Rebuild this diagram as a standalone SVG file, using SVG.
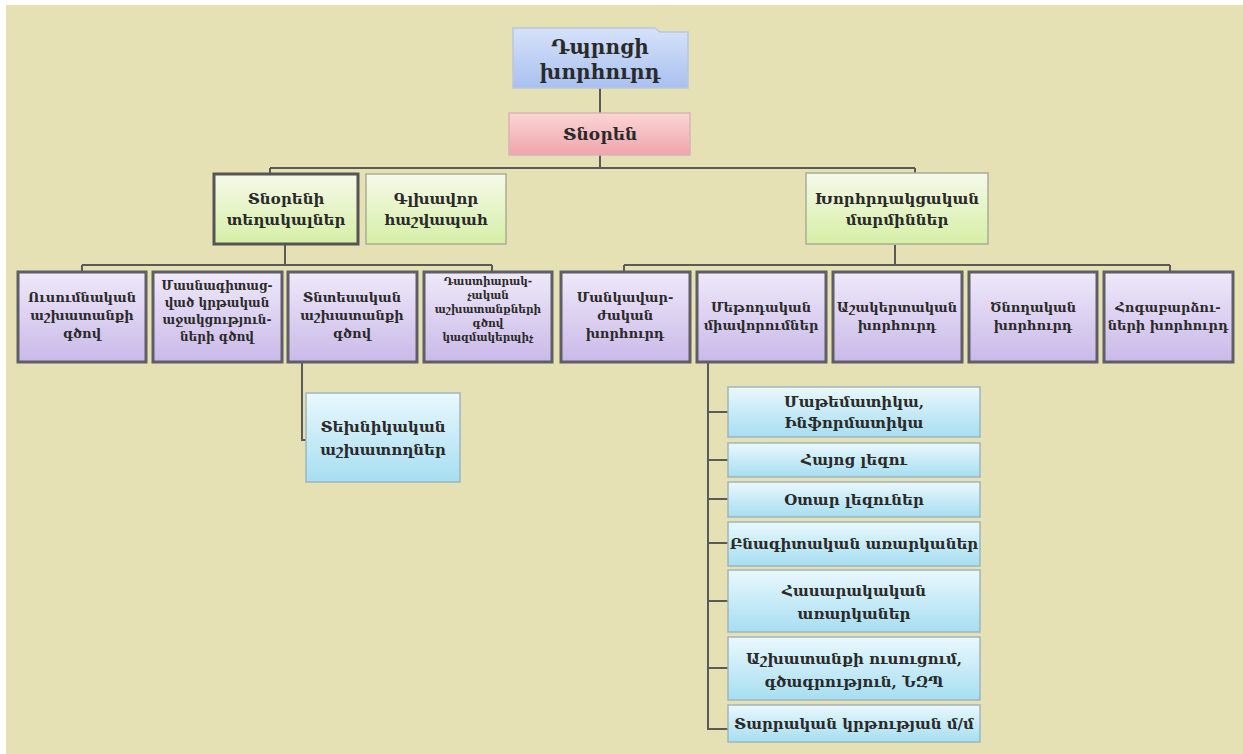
<svg xmlns="http://www.w3.org/2000/svg" width="1243" height="754" viewBox="0 0 1243 754">
<defs>
<linearGradient id="gBlue" x1="0" y1="0" x2="0" y2="1"><stop offset="0" stop-color="#d6e2fa"/><stop offset="1" stop-color="#a9c0ef"/></linearGradient>
<linearGradient id="gPink" x1="0" y1="0" x2="0" y2="1"><stop offset="0" stop-color="#fbd6d6"/><stop offset="1" stop-color="#f0a4ab"/></linearGradient>
<linearGradient id="gGreen" x1="0" y1="0" x2="0" y2="1"><stop offset="0" stop-color="#f6f9ea"/><stop offset="1" stop-color="#d6efa6"/></linearGradient>
<linearGradient id="gPurple" x1="0" y1="0" x2="0" y2="1"><stop offset="0" stop-color="#efe9fa"/><stop offset="1" stop-color="#c9b9e8"/></linearGradient>
<linearGradient id="gCyan" x1="0" y1="0" x2="0" y2="1"><stop offset="0" stop-color="#eaf8fd"/><stop offset="1" stop-color="#a6def1"/></linearGradient>
</defs>
<style>
text{font-family:"DejaVu Serif","Liberation Serif",serif;text-anchor:middle;fill:#2a2a2a;font-weight:bold}
.blue{fill:url(#gBlue);stroke:#b9c6dc;stroke-width:1.5}
.pink{fill:url(#gPink);stroke:#d9b4b4;stroke-width:1.5}
.green{fill:url(#gGreen);stroke:#a9ad94;stroke-width:1.5}
.greenT{fill:url(#gGreen);stroke:#555;stroke-width:3}
.purple{fill:url(#gPurple);stroke:#5e5e66;stroke-width:3}
.cyan{fill:url(#gCyan);stroke:#9fb5bd;stroke-width:1.5}
.l2{font-size:15px}
.l3{font-size:13px}
.l3m{font-size:12px}
.l3s{font-size:10.5px}
.lc{font-size:15px}
#connectors path{fill:none;stroke:#5a5a5a;stroke-width:2}
</style>
<rect x="0" y="0" width="1243" height="754" fill="#ffffff"/>
<rect x="6" y="5" width="1237" height="749" fill="#e6e0b5"/>
<g id="connectors">
<path d="M600 88 V113"/>
<path d="M600 155 V168 M270 168 H915 M270 168 V175 M915 168 V175"/>
<path d="M285 245 V265 M82 265 H492 M82 265 V271 M492 265 V271"/>
<path d="M895 245 V265 M624 265 H1170 M624 265 V271 M1170 265 V271"/>
<path d="M302 362 V440 H306"/>
<path d="M708 362 V729 H728 M708 412 H728 M708 460 H728 M708 499 H728 M708 543 H728 M708 601 H728 M708 668 H728"/>
</g>
<g id="n-council">
<path class="blue" d="M513 28 H655 L660 32 H688 V88 H513 Z"/>
<text x="600" y="54" font-size="20" fill="#22223a">Դպրոցի</text>
<text x="600" y="79" font-size="20" fill="#22223a">խորհուրդ</text>
</g>
<g id="n-director">
<rect class="pink" x="509" y="113" width="181" height="42"/>
<text x="600" y="140" font-size="17" fill="#4e1a1a">Տնօրեն</text>
</g>
<g id="n-deputies">
<rect class="greenT" x="214" y="174" width="144" height="70"/>
<text class="l2" x="286" y="204">Տնօրենի</text>
<text class="l2" x="286" y="225">տեղակալներ</text>
</g>
<g id="n-accountant">
<rect class="green" x="366" y="174" width="140" height="70"/>
<text class="l2" x="436" y="204">Գլխավոր</text>
<text class="l2" x="436" y="225">հաշվապահ</text>
</g>
<g id="n-advisory">
<rect class="green" x="806" y="173" width="182" height="71"/>
<text class="l2" x="897" y="204">Խորհրդակցական</text>
<text class="l2" x="897" y="225">մարմիններ</text>
</g>
<g id="n-edu">
<rect class="purple" x="18" y="272" width="128" height="90"/>
<text class="l3" x="82" y="302">Ուսումնական</text>
<text class="l3" x="82" y="320">աշխատանքի</text>
<text class="l3" x="82" y="338">գծով</text>
</g>
<g id="n-special">
<rect class="purple" x="153" y="272" width="129" height="90"/>
<text class="l3m" x="217" y="290">Մասնագիտաց-</text>
<text class="l3m" x="217" y="307">ված կրթական</text>
<text class="l3m" x="217" y="324">աջակցություն-</text>
<text class="l3m" x="217" y="341">ների գծով</text>
</g>
<g id="n-econ">
<rect class="purple" x="288" y="272" width="129" height="90"/>
<text class="l3" x="352" y="302">Տնտեսական</text>
<text class="l3" x="352" y="320">աշխատանքի</text>
<text class="l3" x="352" y="338">գծով</text>
</g>
<g id="n-upbring">
<rect class="purple" x="424" y="272" width="128" height="90"/>
<text class="l3s" x="488" y="285">Դաստիարակ-</text>
<text class="l3s" x="488" y="299">չական</text>
<text class="l3s" x="488" y="313">աշխատանքների</text>
<text class="l3s" x="488" y="327">գծով</text>
<text class="l3s" x="488" y="341">կազմակերպիչ</text>
</g>
<g id="n-pedag">
<rect class="purple" x="561" y="272" width="129" height="90"/>
<text class="l3" x="625" y="302">Մանկավար-</text>
<text class="l3" x="625" y="320">ժական</text>
<text class="l3" x="625" y="338">խորհուրդ</text>
</g>
<g id="n-method">
<rect class="purple" x="697" y="272" width="129" height="90"/>
<text class="l3" x="761" y="312">Մեթոդական</text>
<text class="l3" x="761" y="330">միավորումներ</text>
</g>
<g id="n-student">
<rect class="purple" x="833" y="272" width="129" height="90"/>
<text class="l3" x="897" y="312">Աշակերտական</text>
<text class="l3" x="897" y="330">խորհուրդ</text>
</g>
<g id="n-parent">
<rect class="purple" x="969" y="272" width="128" height="90"/>
<text class="l3" x="1033" y="312">Ծնողական</text>
<text class="l3" x="1033" y="330">խորհուրդ</text>
</g>
<g id="n-trustee">
<rect class="purple" x="1104" y="272" width="129" height="90"/>
<text class="l3" x="1168" y="312">Հոգաբարձու-</text>
<text class="l3" x="1168" y="330">ների խորհուրդ</text>
</g>
<g id="n-tech">
<rect class="cyan" x="306" y="393" width="154" height="89"/>
<text class="lc" x="383" y="432">Տեխնիկական</text>
<text class="lc" x="383" y="455">աշխատողներ</text>
</g>
<g id="n-math">
<rect class="cyan" x="728" y="387" width="252" height="50"/>
<text class="lc" x="854" y="407">Մաթեմատիկա,</text>
<text class="lc" x="854" y="428">Ինֆորմատիկա</text>
</g>
<g id="n-arm">
<rect class="cyan" x="728" y="443" width="252" height="34"/>
<text class="lc" x="854" y="465">Հայոց լեզու</text>
</g>
<g id="n-foreign">
<rect class="cyan" x="728" y="482" width="252" height="35"/>
<text class="lc" x="854" y="505">Օտար լեզուներ</text>
</g>
<g id="n-science">
<rect class="cyan" x="728" y="522" width="252" height="44"/>
<text class="lc" x="854" y="549">Բնագիտական առարկաներ</text>
</g>
<g id="n-social">
<rect class="cyan" x="728" y="570" width="252" height="62"/>
<text class="lc" x="854" y="596">Հասարակական</text>
<text class="lc" x="854" y="619">առարկաներ</text>
</g>
<g id="n-labor">
<rect class="cyan" x="728" y="637" width="252" height="63"/>
<text class="lc" x="854" y="664">Աշխատանքի ուսուցում,</text>
<text class="lc" x="854" y="687">գծագրություն, ՆԶՊ</text>
</g>
<g id="n-primary">
<rect class="cyan" x="728" y="705" width="252" height="37"/>
<text class="lc" x="854" y="729">Տարրական կրթության մ/մ</text>
</g>
</svg>
